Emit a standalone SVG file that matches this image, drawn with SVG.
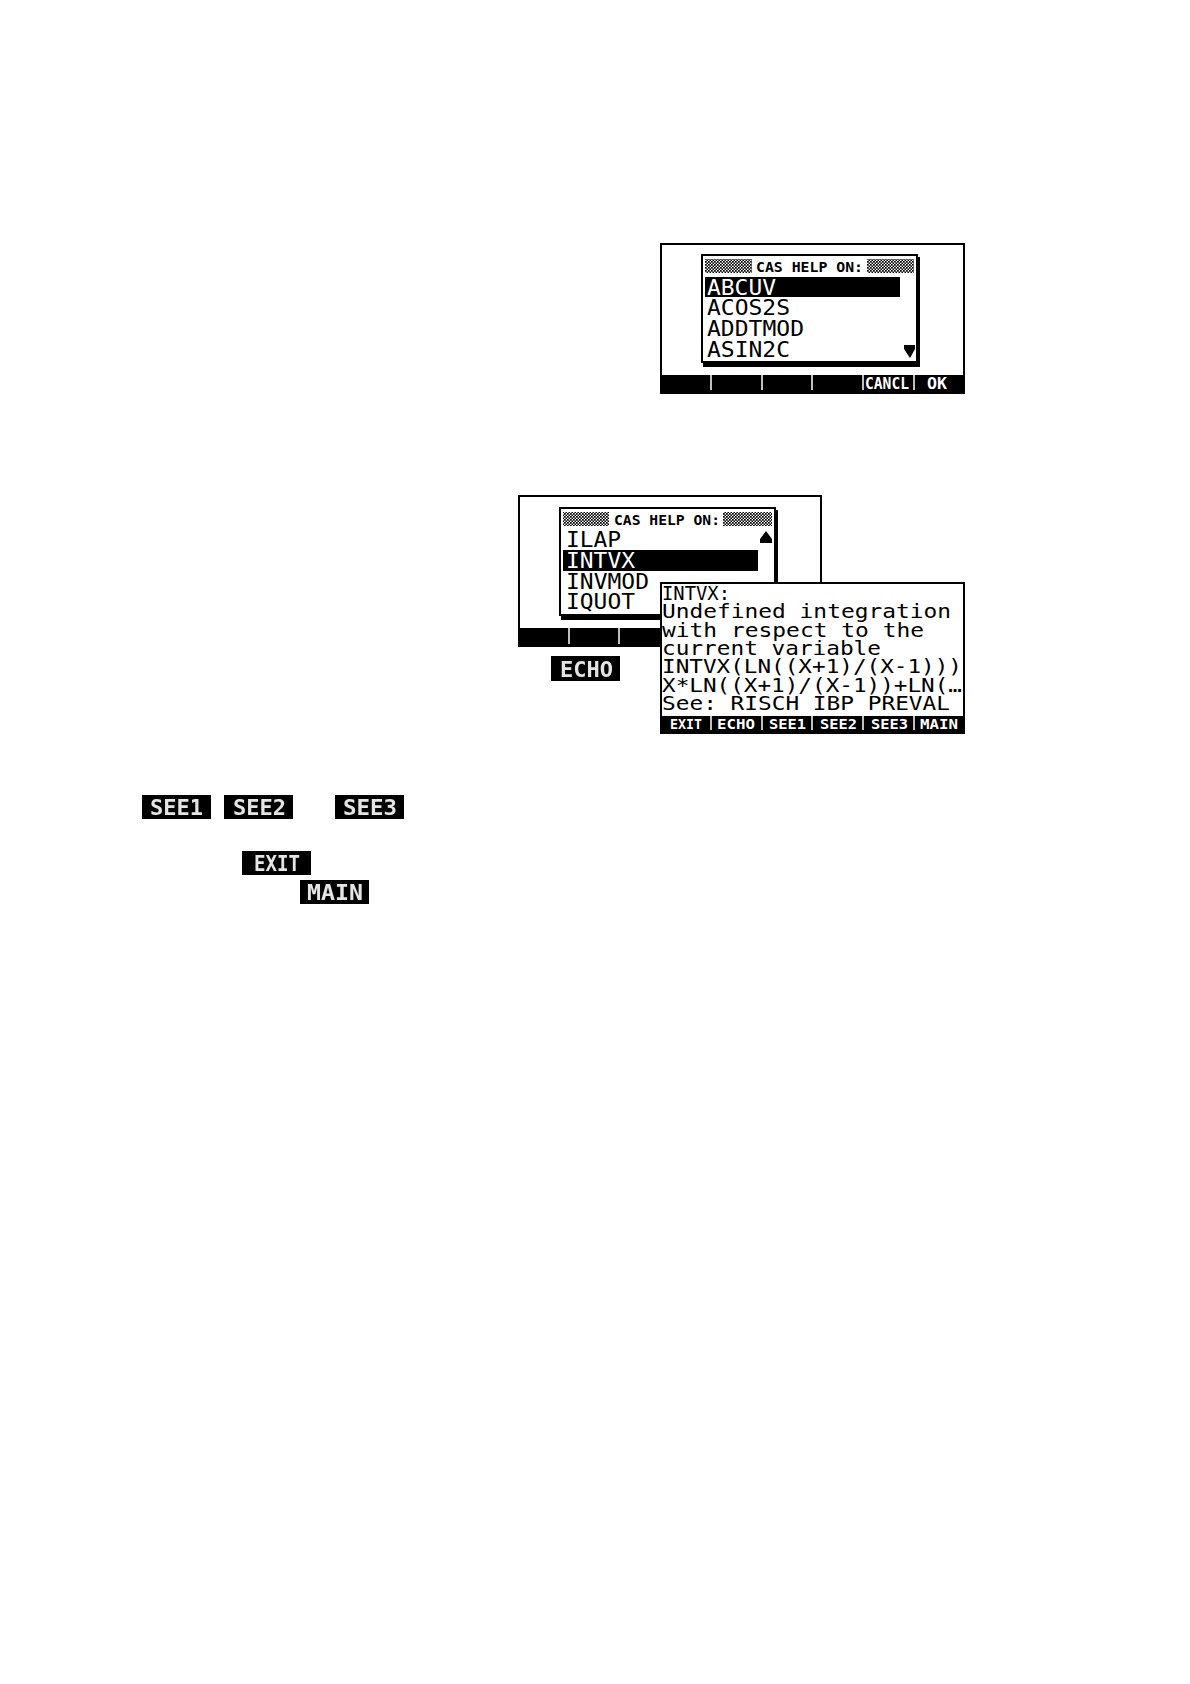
<svg xmlns="http://www.w3.org/2000/svg" width="1190" height="1684" viewBox="0 0 1190 1684">
<defs>
<pattern id="dither" width="3" height="3" patternUnits="userSpaceOnUse"><rect width="3" height="3" fill="#fff"/><rect width="1.7" height="1.7" fill="#000"/><rect x="1.5" y="1.5" width="1.5" height="1.5" fill="#000"/></pattern>
<filter id="soft" x="-10%" y="-20%" width="120%" height="140%"><feGaussianBlur stdDeviation="0.7"/></filter>
</defs>
<style>
text{font-family:"DejaVu Sans Mono","Liberation Mono",monospace;fill:#000}
.frame{fill:#fff;stroke:#000;stroke-width:2}
.bar{fill:#000}
.dlg{fill:#fff;stroke:#000;stroke-width:2}
.shadow{fill:#000}
.dith{fill:url(#dither)}
.title{font-size:14px;font-weight:bold}
.item{font-size:21px}
.sel{fill:#000}
.inv{fill:#fff}
.sep{stroke:#fff;stroke-width:1.5}
.help{font-size:20px}
.soft{font-size:15px;font-weight:bold;fill:#fff}
.softs{font-size:14px;font-weight:bold;fill:#fff}
.btn{font-size:21px;font-weight:bold;fill:#e4e4e4;filter:url(#soft)}
</style>
<rect width="1190" height="1684" fill="#fff"/>
<g id="screen-cas-help">
<rect class="frame" x="661" y="244" width="303" height="149"/>
<rect class="bar" x="660" y="375" width="305" height="19"/>
<path class="sep" d="M711 375V390M762 375V390M812 375V390M863 375V390M914 375V390"/>
<text class="soft" x="865" y="389" textLength="44" lengthAdjust="spacingAndGlyphs">CANCL</text>
<text class="soft" x="927" y="389" textLength="20" lengthAdjust="spacingAndGlyphs">OK</text>
<rect class="shadow" x="703" y="257" width="217" height="110"/>
<rect class="dlg" x="702" y="255" width="215" height="107"/>
<rect class="dith" x="705" y="259" width="47" height="14"/>
<rect class="dith" x="867" y="259" width="47" height="14"/>
<text class="title" x="756" y="272" textLength="107" lengthAdjust="spacingAndGlyphs">CAS HELP ON:</text>
<rect class="sel" x="705" y="277" width="195" height="20"/>
<text class="item inv" x="707" y="295" textLength="69" lengthAdjust="spacingAndGlyphs">ABCUV</text>
<text class="item" x="707" y="315" textLength="83" lengthAdjust="spacingAndGlyphs">ACOS2S</text>
<text class="item" x="707" y="336" textLength="97" lengthAdjust="spacingAndGlyphs">ADDTMOD</text>
<text class="item" x="707" y="357" textLength="83" lengthAdjust="spacingAndGlyphs">ASIN2C</text>
<polygon points="904,345 915,345 915,349 910,358 904,349" fill="#000"/>
</g>
<g id="screen-intvx-list">
<rect class="frame" x="519" y="496" width="302" height="150"/>
<rect class="bar" x="518" y="628" width="304" height="19"/>
<path class="sep" d="M569 628V644M619 628V644"/>
<rect class="shadow" x="561" y="510" width="217" height="110"/>
<rect class="dlg" x="560" y="508" width="215" height="107"/>
<rect class="dith" x="563" y="512" width="46" height="14"/>
<rect class="dith" x="723" y="512" width="49" height="14"/>
<text class="title" x="614" y="525" textLength="106" lengthAdjust="spacingAndGlyphs">CAS HELP ON:</text>
<text class="item" x="566" y="547" textLength="55" lengthAdjust="spacingAndGlyphs">ILAP</text>
<polygon points="760,543 772,543 772,539 766,531 760,539" fill="#000"/>
<rect class="sel" x="563" y="550" width="195" height="21"/>
<text class="item inv" x="566" y="568" textLength="69" lengthAdjust="spacingAndGlyphs">INTVX</text>
<text class="item" x="566" y="589" textLength="83" lengthAdjust="spacingAndGlyphs">INVMOD</text>
<text class="item" x="566" y="609" textLength="69" lengthAdjust="spacingAndGlyphs">IQUOT</text>
</g>
<g id="screen-intvx-help">
<rect class="frame" x="661" y="583" width="303" height="150"/>
<rect class="bar" x="660" y="716" width="305" height="18"/>
<path class="sep" d="M711 716V730M762 716V730M812 716V730M863 716V730M914 716V730"/>
<text class="help" x="662" y="600" textLength="68" lengthAdjust="spacingAndGlyphs">INTVX:</text>
<text class="help" x="662" y="618" textLength="289" lengthAdjust="spacingAndGlyphs">Undefined integration</text>
<text class="help" x="662" y="637" textLength="262" lengthAdjust="spacingAndGlyphs">with respect to the</text>
<text class="help" x="662" y="655" textLength="219" lengthAdjust="spacingAndGlyphs">current variable</text>
<text class="help" x="662" y="673" textLength="300" lengthAdjust="spacingAndGlyphs">INTVX(LN((X+1)/(X-1)))</text>
<text class="help" x="662" y="692" textLength="300" lengthAdjust="spacingAndGlyphs">X*LN((X+1)/(X-1))+LN(…</text>
<text class="help" x="662" y="710" textLength="288" lengthAdjust="spacingAndGlyphs">See: RISCH IBP PREVAL</text>
<text class="softs" x="670" y="729" textLength="32" lengthAdjust="spacingAndGlyphs">EXIT</text>
<text class="softs" x="717" y="729" textLength="38" lengthAdjust="spacingAndGlyphs">ECHO</text>
<text class="softs" x="769" y="729" textLength="37" lengthAdjust="spacingAndGlyphs">SEE1</text>
<text class="softs" x="820" y="729" textLength="37" lengthAdjust="spacingAndGlyphs">SEE2</text>
<text class="softs" x="871" y="729" textLength="37" lengthAdjust="spacingAndGlyphs">SEE3</text>
<text class="softs" x="920" y="729" textLength="38" lengthAdjust="spacingAndGlyphs">MAIN</text>
</g>
<g id="btn-echo"><rect class="bar" x="551" y="656" width="69" height="25"/><text class="btn" x="560" y="677" textLength="53" lengthAdjust="spacingAndGlyphs">ECHO</text></g>
<g id="btn-see1"><rect class="bar" x="142" y="795" width="69" height="24"/><text class="btn" x="150" y="815" textLength="53" lengthAdjust="spacingAndGlyphs">SEE1</text></g>
<g id="btn-see2"><rect class="bar" x="224" y="795" width="69" height="24"/><text class="btn" x="233" y="815" textLength="53" lengthAdjust="spacingAndGlyphs">SEE2</text></g>
<g id="btn-see3"><rect class="bar" x="335" y="795" width="69" height="24"/><text class="btn" x="343" y="815" textLength="54" lengthAdjust="spacingAndGlyphs">SEE3</text></g>
<g id="btn-exit"><rect class="bar" x="242" y="851" width="69" height="24"/><text class="btn" x="254" y="871" textLength="46" lengthAdjust="spacingAndGlyphs">EXIT</text></g>
<g id="btn-main"><rect class="bar" x="300" y="880" width="69" height="24"/><text class="btn" x="307" y="900" textLength="56" lengthAdjust="spacingAndGlyphs">MAIN</text></g>
</svg>
